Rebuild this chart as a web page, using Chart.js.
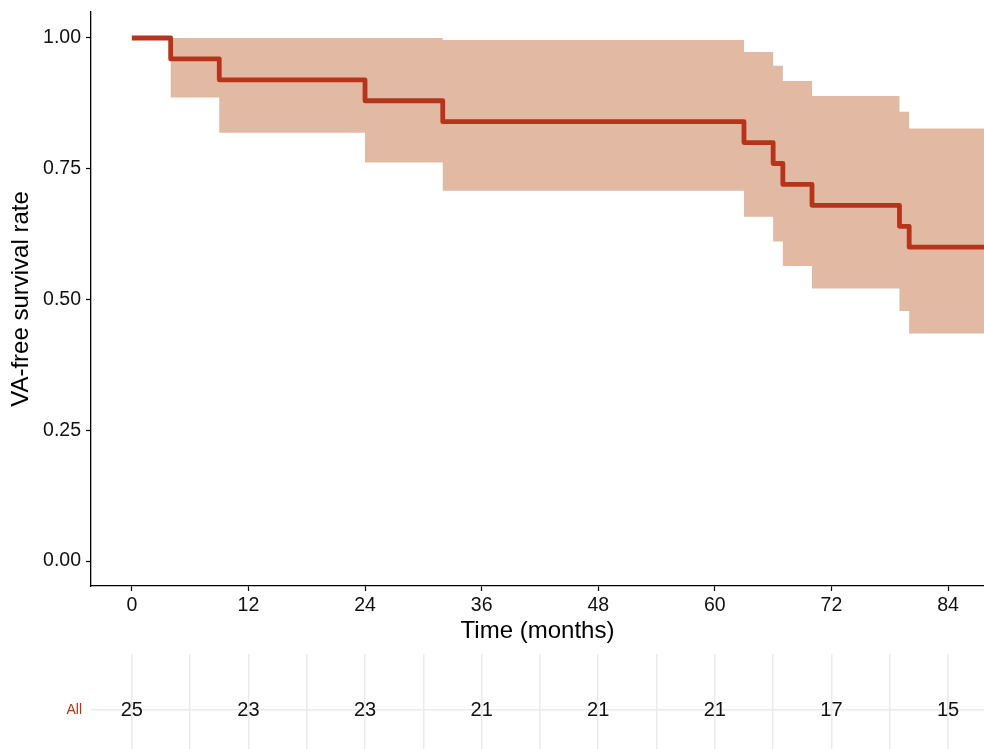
<!DOCTYPE html>
<html><head><meta charset="utf-8">
<script src="https://cdn.jsdelivr.net/npm/chart.js@4.4.1/dist/chart.umd.min.js"></script>
<style>
html,body{margin:0;padding:0;background:#fff;overflow:hidden;width:984px;height:749px;}
.wrap{position:absolute;left:0;}
</style></head><body>
<div class="wrap" style="top:0;"><canvas id="main" width="984" height="646"></canvas></div>
<div class="wrap" style="top:646px;"><canvas id="risk" width="984" height="130"></canvas></div>
<script>
// ---- data ----
const times    = [0, 4, 9, 24, 32, 63, 66, 67, 70, 79, 80, 88];
const survival = [1, 0.96, 0.92, 0.88, 0.84, 0.80, 0.76, 0.72, 0.68, 0.64, 0.60, 0.60];
const upperCI  = [1, 1, 1, 1, 0.996, 0.973, 0.947, 0.918, 0.889, 0.859, 0.827, 0.827];
const lowerCI  = [1, 0.886, 0.819, 0.762, 0.708, 0.658, 0.611, 0.564, 0.521, 0.478, 0.435, 0.435];
const xTicks   = [0, 12, 24, 36, 48, 60, 72, 84];
const yTicks   = [0, 0.25, 0.5, 0.75, 1];
const riskTimes  = [0, 12, 24, 36, 48, 60, 72, 84];
const riskCounts = [25, 23, 23, 21, 21, 21, 17, 15];
const riskGroup  = 'All';

const LINE = '#B5341A';
const BAND = '#E2B9A3';
const FONT = '"Liberation Sans", Arial, Helvetica, sans-serif';
Chart.defaults.font.family = FONT;
Chart.defaults.color = '#1a1a1a';

const X_MIN = -4.2, X_MAX = 87.7;
const pts = arr => times.map((t, i) => ({x: t, y: arr[i]}));
const noPad = s => { s.paddingTop = 0; s.paddingBottom = 0; s.paddingLeft = 0; s.paddingRight = 0; };

new Chart(document.getElementById('main'), {
  type: 'line',
  data: {
    datasets: [
      {data: pts(survival), stepped: true, borderColor: LINE, borderWidth: 4.8,
       borderJoinStyle: 'round', pointRadius: 0, fill: false, order: 0},
      {data: pts(upperCI), stepped: true, borderColor: 'rgba(0,0,0,0)', borderWidth: 0,
       pointRadius: 0, fill: '+1', backgroundColor: BAND, order: 1},
      {data: pts(lowerCI), stepped: true, borderColor: 'rgba(0,0,0,0)', borderWidth: 0,
       pointRadius: 0, fill: false, order: 2}
    ]
  },
  options: {
    responsive: false, animation: false,
    layout: {padding: {left: 7, top: 12, right: 0, bottom: 0}},
    plugins: {legend: {display: false}, tooltip: {enabled: false}},
    scales: {
      x: {
        type: 'linear', min: X_MIN, max: X_MAX,
        afterBuildTicks: s => { s.ticks = xTicks.map(v => ({value: v})); },
        ticks: {font: {size: 19.5}, color: '#111', padding: 3, maxRotation: 0},
        grid: {drawOnChartArea: false, drawTicks: true, tickLength: 5, tickColor: '#000', tickWidth: 1.2},
        border: {display: true, color: '#000', width: 1.3},
        title: {display: true, text: 'Time (months)', font: {size: 24}, color: '#000', padding: 0},
        afterFit: s => { s.height = 60; noPad(s); }
      },
      y: {
        type: 'linear', min: -0.0478, max: 1.0497,
        afterBuildTicks: s => { s.ticks = yTicks.map(v => ({value: v})); },
        ticks: {font: {size: 19.5}, color: '#111', padding: 5, callback: v => Number(v).toFixed(2)},
        grid: {drawOnChartArea: false, drawTicks: true, tickLength: 5, tickColor: '#000', tickWidth: 1.2},
        border: {display: true, color: '#000', width: 1.3},
        title: {display: true, text: 'VA-free survival rate', font: {size: 24}, color: '#000', padding: 0},
        afterFit: s => { s.width = 84; noPad(s); }
      }
    }
  }
});

const riskText = {
  id: 'riskText',
  afterDatasetsDraw(chart) {
    const meta = chart.getDatasetMeta(0);
    const ctx = chart.ctx;
    ctx.save();
    ctx.font = '20px ' + FONT;
    ctx.fillStyle = '#111';
    ctx.textAlign = 'center';
    ctx.textBaseline = 'middle';
    meta.data.forEach((el, i) => {
      ctx.fillText(String(riskCounts[i]), el.x, el.y);
    });
    ctx.restore();
  }
};

new Chart(document.getElementById('risk'), {
  type: 'scatter',
  data: {
    datasets: [{data: riskTimes.map(t => ({x: t, y: 0.5})), pointRadius: 0, showLine: false}]
  },
  options: {
    responsive: false, animation: false,
    layout: {padding: {left: 7, top: 8, right: 0, bottom: 10}},
    plugins: {legend: {display: false}, tooltip: {enabled: false}},
    scales: {
      x: {
        type: 'linear', min: X_MIN, max: X_MAX,
        ticks: {display: false, stepSize: 6, includeBounds: false},
        grid: {color: '#EBEBEB', lineWidth: 1.5, drawTicks: false},
        border: {display: false},
        afterFit: s => { s.height = 0; noPad(s); }
      },
      y: {
        type: 'linear', min: 0, max: 1,
        afterBuildTicks: s => { s.ticks = [{value: 0.5}]; },
        ticks: {font: {size: 14}, color: LINE, padding: 9, callback: () => riskGroup},
        grid: {color: '#EBEBEB', lineWidth: 1.5, drawTicks: false},
        border: {display: false},
        afterFit: s => { s.width = 84; noPad(s); }
      }
    }
  },
  plugins: [riskText]
});
</script>
</body></html>
